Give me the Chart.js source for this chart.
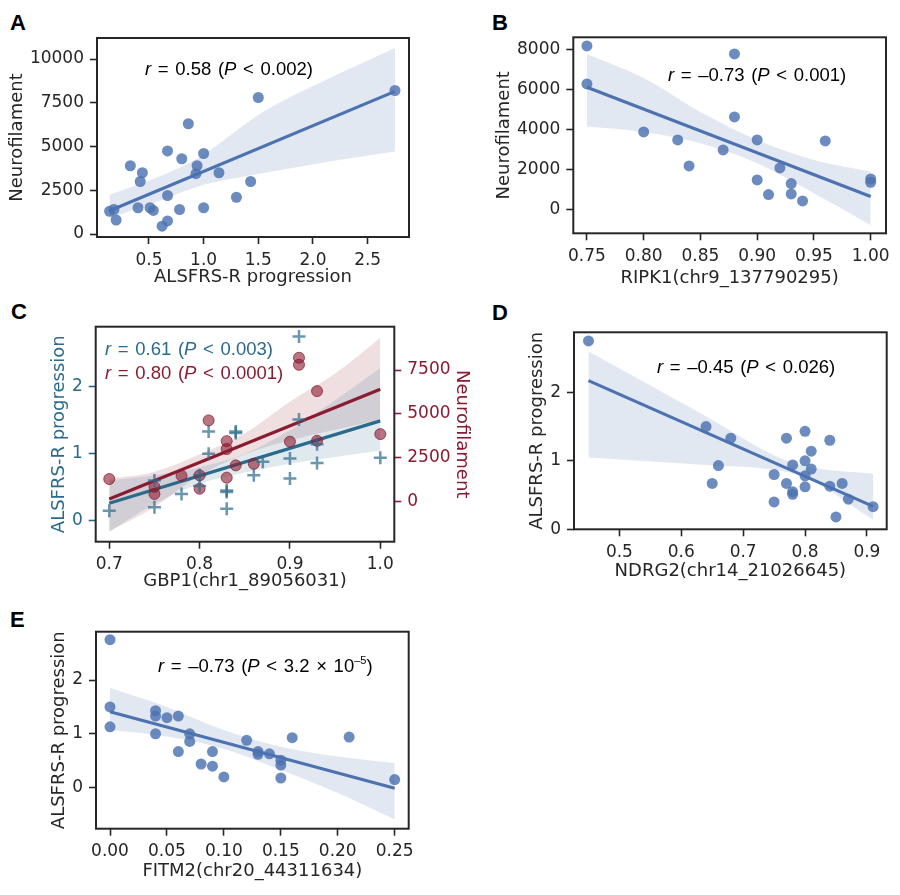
<!DOCTYPE html>
<html>
<head>
<meta charset="utf-8">
<script src="https://cdn.jsdelivr.net/npm/chart.js@4.4.0/dist/chart.umd.min.js"></script>
<style>
  body { margin: 0; background: #fff; width: 900px; height: 895px; position: relative; overflow: hidden; }
  canvas { position: absolute; }
  .note { position: absolute; font-family: "Liberation Sans", Arial, sans-serif; font-size: 18.5px; line-height: 1; white-space: nowrap; color: #000; word-spacing: 1.5px; }
  .note sup { font-size: 11px; vertical-align: 8px; word-spacing: 0; }
  .tag { position: absolute; font-family: "Liberation Sans", Arial, sans-serif; font-weight: bold; font-size: 22px; line-height: 1; }
</style>
</head>
<body>
<div class="tag" style="left:10px;top:12px">A</div>
<div class="tag" style="left:492px;top:12px">B</div>
<div class="tag" style="left:11px;top:301px">C</div>
<div class="tag" style="left:492px;top:302px">D</div>
<div class="tag" style="left:10px;top:609px">E</div>

<canvas id="chartA" width="450" height="290" style="left:0;top:0"></canvas>
<canvas id="chartB" width="450" height="290" style="left:450px;top:0"></canvas>
<canvas id="chartC" width="480" height="305" style="left:0;top:290px"></canvas>
<canvas id="chartD" width="450" height="300" style="left:450px;top:290px"></canvas>
<canvas id="chartE" width="450" height="305" style="left:0;top:590px"></canvas>

<div class="note" style="left:145px;top:60px"><i>r</i> = 0.58 (<i>P</i> &lt; 0.002)</div>
<div class="note" style="left:668px;top:66px"><i>r</i> = –0.73 (<i>P</i> &lt; 0.001)</div>
<div class="note" style="left:105px;top:340px;color:#2b6a8c"><i>r</i> = 0.61 (<i>P</i> &lt; 0.003)</div>
<div class="note" style="left:105px;top:364px;color:#8a1c32"><i>r</i> = 0.80 (<i>P</i> &lt; 0.0001)</div>
<div class="note" style="left:657px;top:358px"><i>r</i> = –0.45 (<i>P</i> &lt; 0.026)</div>
<div class="note" style="left:158px;top:655px"><i>r</i> = –0.73 (<i>P</i> &lt; 3.2 × 10<sup>–5</sup>)</div>

<script>
// ======== Data ========

// A: neurofilament vs ALSFRS-R progression
const aProgression = [0.14, 0.18, 0.20, 0.33, 0.40, 0.42, 0.44, 0.51, 0.54, 0.62, 0.67, 0.67, 0.67,
  0.78, 0.80, 0.86, 0.93, 0.94, 1.00, 1.00, 1.14, 1.30, 1.43, 1.50, 2.75];
const aNfl = [1300, 1400, 800, 3900, 1500, 3000, 3500, 1500, 1350, 450, 750, 2200, 4750,
  1400, 4300, 6300, 3450, 3900, 4600, 1500, 3500, 2100, 3000, 7800, 8200];
const aFitX = [0.14, 2.75];
const aFitY = [1330, 8150];
const aBandX = [0.14, 0.6, 0.95, 1.55, 2.15, 2.75];
const aBandHi = [2250, 3300, 4350, 7000, 8900, 10630];
const aBandLo = [900, 1900, 2720, 3480, 4150, 4720];
const aTicksX = ['0.5', '1.0', '1.5', '2.0', '2.5'];
const aTicksY = ['0', '2500', '5000', '7500', '10000'];

// B: neurofilament vs RIPK1 methylation
const bRipk1 = [0.75, 0.75, 0.80, 0.83, 0.84, 0.87, 0.88, 0.88, 0.90, 0.90, 0.91, 0.92, 0.93, 0.93,
  0.94, 0.96, 1.00, 1.00];
const bNfl = [8200, 6300, 3900, 3500, 2200, 3000, 7800, 4650, 3500, 1500, 770, 2100, 1320, 800,
  450, 3450, 1550, 1380];
const bFitX = [0.75, 1.00];
const bFitY = [6130, 670];
const bBandX = [0.75, 0.80, 0.85, 0.90, 0.95, 1.00];
const bBandHi = [7800, 6600, 4900, 3500, 2500, 1920];
const bBandLo = [4170, 3900, 3330, 2330, 830, -770];
const bTicksX = ['0.75', '0.80', '0.85', '0.90', '0.95', '1.00'];
const bTicksY = ['0', '2000', '4000', '6000', '8000'];

// C: GBP1 methylation vs ALSFRS-R progression (left) and neurofilament (right)
const cGbp1Alsfrs = [0.70, 0.75, 0.75, 0.78, 0.80, 0.80, 0.81, 0.81, 0.83, 0.83, 0.83, 0.84, 0.84,
  0.86, 0.87, 0.90, 0.90, 0.91, 0.91, 0.93, 0.93, 1.00];
const cAlsfrs = [0.15, 0.60, 0.20, 0.40, 0.68, 0.52, 1.33, 1.00, 0.43, 0.45, 0.18, 1.31, 1.33,
  0.68, 0.88, 0.93, 0.63, 2.75, 1.51, 1.14, 0.86, 0.94];
const cGbp1Nfl = [0.70, 0.75, 0.75, 0.78, 0.80, 0.80, 0.81, 0.83, 0.83, 0.83, 0.84, 0.86, 0.90,
  0.91, 0.91, 0.93, 0.93, 1.00];
const cNfl = [1290, 850, 440, 1480, 1500, 740, 4630, 3450, 3000, 1370, 2070, 2160, 3420,
  8200, 7800, 6300, 3470, 3850];
const cFitX = [0.70, 1.00];
const cAlsfrsFit = [0.26, 1.49];
const cNflFit = [150, 6400];
const cBandX = [0.70, 0.75, 0.80, 0.85, 0.90, 0.95, 1.00];
const cAlsfrsHi = [0.60, 0.68, 0.80, 1.00, 1.35, 1.80, 2.28];
const cAlsfrsLo = [-0.16, 0.25, 0.55, 0.72, 0.85, 0.95, 1.05];
const cNflHi = [1300, 1700, 2700, 3900, 5700, 7300, 9340];
const cNflLo = [-1700, -300, 1500, 2700, 3500, 4100, 4650];
const cTicksX = ['0.7', '0.8', '0.9', '1.0'];
const cTicksLeft = ['0', '1', '2'];
const cTicksRight = ['0', '2500', '5000', '7500'];

// D: ALSFRS-R progression vs NDRG2 methylation
const dNdrg2 = [0.45, 0.64, 0.65, 0.66, 0.68, 0.75, 0.75, 0.77, 0.77, 0.78, 0.78, 0.78,
  0.80, 0.80, 0.80, 0.80, 0.81, 0.81, 0.84, 0.84, 0.86, 0.85, 0.87, 0.91];
const dAlsfrs = [2.75, 1.50, 0.67, 0.93, 1.33, 0.80, 0.40, 1.33, 0.67, 0.94, 0.55, 0.51,
  1.43, 1.00, 0.78, 0.62, 1.14, 0.88, 1.30, 0.63, 0.67, 0.18, 0.44, 0.33];
const dFitX = [0.45, 0.91];
const dFitY = [2.17, 0.335];
const dBandX = [0.45, 0.64, 0.75, 0.80, 0.91];
const dBandHi = [2.60, 1.65, 1.08, 0.92, 0.81];
const dBandLo = [1.05, 0.94, 0.87, 0.76, 0.14];
const dTicksX = ['0.5', '0.6', '0.7', '0.8', '0.9'];
const dTicksY = ['0', '1', '2'];

// E: ALSFRS-R progression vs FITM2 methylation
const eFitm2 = [0.00, 0.00, 0.00, 0.04, 0.04, 0.04, 0.05, 0.06, 0.06, 0.07, 0.07, 0.08, 0.09,
  0.09, 0.10, 0.12, 0.13, 0.13, 0.14, 0.15, 0.15, 0.15, 0.16, 0.21, 0.25];
const eAlsfrs = [2.75, 1.50, 1.13, 1.43, 1.33, 1.00, 1.30, 1.33, 0.67, 1.00, 0.86, 0.44, 0.67,
  0.40, 0.20, 0.88, 0.67, 0.62, 0.63, 0.51, 0.42, 0.18, 0.93, 0.94, 0.15];
const eFitX = [0.00, 0.25];
const eFitY = [1.41, -0.01];
const eBandX = [0.00, 0.05, 0.10, 0.15, 0.20, 0.25];
const eBandHi = [1.85, 1.50, 1.07, 0.76, 0.58, 0.46];
const eBandLo = [1.07, 0.95, 0.72, 0.33, -0.10, -0.59];
const eTicksX = ['0.00', '0.05', '0.10', '0.15', '0.20', '0.25'];
const eTicksY = ['0', '1', '2'];

// ======== Style ========
const INK = '#262626';
const BLUE = '#4c72b0';
const BLUE_DOT = 'rgba(76,114,176,0.82)';
const BLUE_BAND = 'rgba(76,114,176,0.16)';
const TEAL = '#2b6a8c';
const TEAL_DOT = 'rgba(43,106,140,0.7)';
const TEAL_BAND = 'rgba(43,106,140,0.15)';
const RED = '#8a1c32';
const RED_DOT = 'rgba(139,26,46,0.6)';
const RED_EDGE = 'rgba(139,26,46,0.75)';
const RED_BAND = 'rgba(139,26,46,0.14)';

// ======== Helpers ========
function xy(xs, ys) {
  return xs.map((x, i) => ({ x: x, y: ys[i] }));
}

const framePlugin = {
  id: 'frame',
  afterDatasetsDraw(chart) {
    const a = chart.chartArea;
    const ctx = chart.ctx;
    ctx.save();
    ctx.strokeStyle = INK;
    ctx.lineWidth = 2;
    ctx.strokeRect(a.left, a.top, a.right - a.left, a.bottom - a.top);
    ctx.restore();
  }
};

function axis(o) {
  return {
    type: 'linear',
    position: o.pos,
    min: o.min,
    max: o.max,
    afterBuildTicks: s => { s.ticks = o.ticks.map(t => ({ value: parseFloat(t) })); },
    afterFit: s => {
      if (s.isHorizontal()) s.height = o.size; else s.width = o.size;
      s.paddingLeft = 0; s.paddingRight = 0; s.paddingTop = 0; s.paddingBottom = 0;
    },
    ticks: {
      callback: (v, i) => o.ticks[i],
      color: o.color || INK,
      font: { family: 'DejaVu Sans', size: 17 },
      padding: 6,
      autoSkip: false,
      maxRotation: 0
    },
    grid: { drawOnChartArea: false, tickLength: 7, tickWidth: 1.6, tickColor: o.color || INK },
    border: { display: false },
    title: {
      display: true,
      text: o.title,
      color: o.color || INK,
      font: { family: 'DejaVu Sans', size: 18 },
      padding: { top: 0, bottom: o.titlePad || 0 }
    }
  };
}

function pointSet(xs, ys, color, yAxisID, style, edge) {
  return {
    data: xy(xs, ys), yAxisID: yAxisID,
    pointStyle: style || 'circle',
    pointRadius: style === 'cross' ? 6.5 : 5.5,
    pointBorderWidth: style === 'cross' ? 2.5 : (edge ? 1 : 0),
    backgroundColor: color, borderColor: edge || color,
    clip: false
  };
}

function fitSet(xs, ys, color, yAxisID) {
  return {
    data: xy(xs, ys), yAxisID: yAxisID, showLine: true,
    borderColor: color, borderWidth: 3.2, pointRadius: 0, fill: false
  };
}

function bandSets(xs, hi, lo, color, yAxisID) {
  return [
    { data: xy(xs, hi), yAxisID: yAxisID, showLine: true, borderWidth: 0, pointRadius: 0,
      cubicInterpolationMode: 'monotone', fill: '+1', backgroundColor: color },
    { data: xy(xs, lo), yAxisID: yAxisID, showLine: true, borderWidth: 0, pointRadius: 0,
      cubicInterpolationMode: 'monotone', fill: false }
  ];
}

function makeChart(id, padding, scales, datasets) {
  return new Chart(document.getElementById(id), {
    type: 'scatter',
    data: { datasets: datasets },
    options: {
      responsive: false,
      animation: false,
      events: [],
      layout: { padding: padding },
      plugins: { legend: { display: false }, tooltip: { enabled: false } },
      scales: scales
    },
    plugins: [framePlugin]
  });
}

// ======== Charts ========
makeChart('chartA', { left: 6.7, top: 38, right: 41, bottom: 0 }, {
  x: axis({ pos: 'bottom', min: 0.025, max: 2.878, ticks: aTicksX, title: 'ALSFRS-R progression', size: 53, titlePad: 2.2 }),
  y: axis({ pos: 'left', min: -171, max: 11200, ticks: aTicksY, title: 'Neurofilament', size: 90.3 })
}, [
  pointSet(aProgression, aNfl, BLUE_DOT, 'y'),
  fitSet(aFitX, aFitY, BLUE, 'y'),
  ...bandSets(aBandX, aBandHi, aBandLo, BLUE_BAND, 'y')
]);

makeChart('chartB', { left: 43.2, top: 37.3, right: 14, bottom: 0 }, {
  x: axis({ pos: 'bottom', min: 0.738, max: 1.0135, ticks: bTicksX, title: 'RIPK1(chr9_137790295)', size: 56.7, titlePad: 1.2 }),
  y: axis({ pos: 'left', min: -1167, max: 8633, ticks: bTicksY, title: 'Neurofilament', size: 80.1 })
}, [
  pointSet(bRipk1, bNfl, BLUE_DOT, 'y'),
  fitSet(bFitX, bFitY, BLUE, 'y'),
  ...bandSets(bBandX, bBandHi, bBandLo, BLUE_BAND, 'y')
]);

makeChart('chartC', { left: 48.2, top: 36.7, right: 7.7, bottom: 0 }, {
  x: axis({ pos: 'bottom', min: 0.685, max: 1.0155, ticks: cTicksX, title: 'GBP1(chr1_89056031)', size: 53.3, titlePad: 3.2 }),
  y: axis({ pos: 'left', min: -0.313, max: 2.896, ticks: cTicksLeft, title: 'ALSFRS-R progression', size: 47.5, color: TEAL }),
  y2: axis({ pos: 'right', min: -2278, max: 9968, ticks: cTicksRight, title: 'Neurofilament', size: 78, color: RED })
}, [
  pointSet(cGbp1Alsfrs, cAlsfrs, TEAL_DOT, 'y', 'cross'),
  pointSet(cGbp1Nfl, cNfl, RED_DOT, 'y2', 'circle', RED_EDGE),
  fitSet(cFitX, cNflFit, RED, 'y2'),
  fitSet(cFitX, cAlsfrsFit, TEAL, 'y'),
  ...bandSets(cBandX, cAlsfrsHi, cAlsfrsLo, TEAL_BAND, 'y'),
  ...bandSets(cBandX, cNflHi, cNflLo, RED_BAND, 'y2')
]);

makeChart('chartD', { left: 76.7, top: 42.3, right: 13.3, bottom: 0 }, {
  x: axis({ pos: 'bottom', min: 0.4266, max: 0.932, ticks: dTicksX, title: 'NDRG2(chr14_21026645)', size: 60.7, titlePad: 8.2 }),
  y: axis({ pos: 'left', min: 0, max: 2.876, ticks: dTicksY, title: 'ALSFRS-R progression', size: 47.3 })
}, [
  pointSet(dNdrg2, dAlsfrs, BLUE_DOT, 'y'),
  fitSet(dFitX, dFitY, BLUE, 'y'),
  ...bandSets(dBandX, dBandHi, dBandLo, BLUE_BAND, 'y')
]);

makeChart('chartE', { left: 48.7, top: 41.7, right: 41.3, bottom: 0 }, {
  x: axis({ pos: 'bottom', min: -0.0123, max: 0.2623, ticks: eTicksX, title: 'FITM2(chr20_44311634)', size: 66.3, titlePad: 13.2 }),
  y: axis({ pos: 'left', min: -0.762, max: 2.898, ticks: eTicksY, title: 'ALSFRS-R progression', size: 47.3 })
}, [
  pointSet(eFitm2, eAlsfrs, BLUE_DOT, 'y'),
  fitSet(eFitX, eFitY, BLUE, 'y'),
  ...bandSets(eBandX, eBandHi, eBandLo, BLUE_BAND, 'y')
]);
</script>
</body>
</html>
